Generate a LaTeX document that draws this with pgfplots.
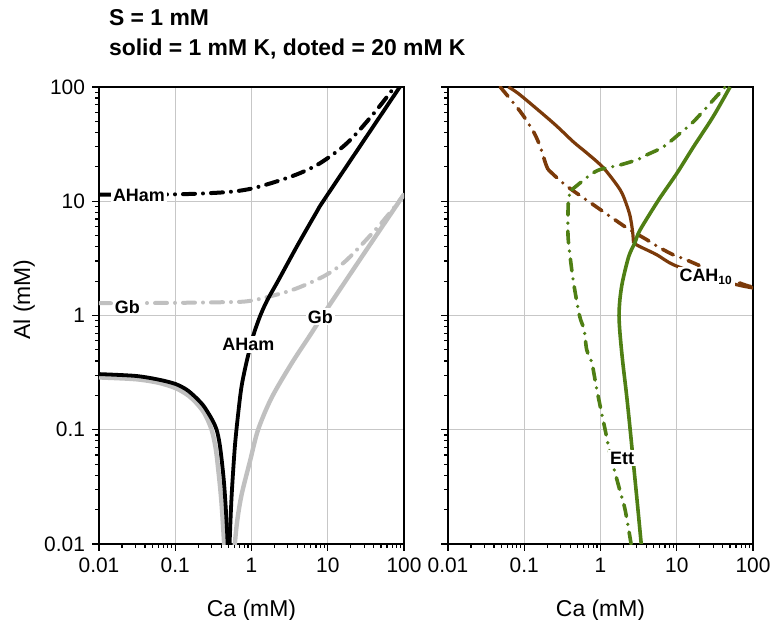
\documentclass[border=0pt]{standalone}
\usepackage{fontspec}
\setmainfont{Liberation Sans}
\usepackage{pgfplots}
\pgfplotsset{compat=1.18}

\definecolor{cahbrown}{RGB}{123,58,10}
\definecolor{ettgreen}{RGB}{79,127,20}
\definecolor{gbgray}{RGB}{192,192,192}

\tikzset{
  solidline/.style={line width=1.9bp, line join=round, smooth, tension=0.5},
  ddline/.style={line width=2bp, line cap=round, line join=round, smooth, tension=0.5,
    dash pattern=on 6bp off 4bp on 0bp off 4bp},
  curvelabel/.style={fill=white, inner sep=1bp,
    font=\fontsize{9}{10}\selectfont\bfseries},
}

\begin{document}
\begin{tikzpicture}
\useasboundingbox (0,0) rectangle (387.5bp,310bp);

\node[anchor=base west, font=\fontsize{11.5}{13}\selectfont\bfseries] at (51bp,297bp) {S = 1 mM};
\node[anchor=base west, font=\fontsize{11.5}{13}\selectfont\bfseries] at (51bp,282bp) {solid = 1 mM K, doted = 20 mM K};

% ---------------- left panel: AHam and Gb ----------------
\begin{axis}[
    xmode=log, ymode=log,
    scale only axis, width=152.5bp, height=228.5bp,
    at={(49.5bp,38bp)}, anchor=south west,
    xmin=0.01, xmax=100, ymin=0.01, ymax=100,
    xtick={0.01,0.1,1,10,100}, xticklabels={0.01,0.1,1,10,100},
    ytick={0.01,0.1,1,10,100}, yticklabels={0.01,0.1,1,10,100},
    minor xtick={0.02,0.03,0.04,0.05,0.06,0.07,0.08,0.09,0.2,0.3,0.4,0.5,0.6,0.7,0.8,0.9,2,3,4,5,6,7,8,9,20,30,40,50,60,70,80,90},
    minor ytick={0.02,0.03,0.04,0.05,0.06,0.07,0.08,0.09,0.2,0.3,0.4,0.5,0.6,0.7,0.8,0.9,2,3,4,5,6,7,8,9,20,30,40,50,60,70,80,90},
    tick align=outside, major tick length=3.5bp, minor tick length=2bp,
    xtick pos=bottom, ytick pos=left,
    grid=major, major grid style={line width=0.5bp, draw=black!22},
    axis line style={line width=0.75bp},
    tick style={black, line width=0.6bp},
    tick label style={font=\fontsize{10.5}{12}\selectfont},
    label style={font=\fontsize{11.5}{13}\selectfont},
    xlabel={Ca (mM)},
    xlabel style={at={(axis description cs:0.5,-0.158)}, anchor=base},
    ylabel={Al (mM)},
    ylabel style={at={(axis description cs:-0.245,0.535)}, anchor=center},
  ]

% Gb, 1 mM K
\addplot[gbgray, solidline, line width=2.2bp] coordinates {
 (0.01,0.287) (0.03,0.277) (0.06,0.258) (0.1,0.232) (0.14,0.205) (0.181,0.177)
 (0.24,0.14) (0.3,0.1) (0.34,0.068) (0.366,0.045) (0.39,0.03) (0.41,0.02)
 (0.438,0.01) (0.442,0.008)};
\addplot[gbgray, solidline, line width=2.2bp] coordinates {
 (0.60,0.008) (0.605,0.01) (0.65,0.016) (0.741,0.027) (0.955,0.053) (1.22,0.1)
 (1.83,0.19) (3.35,0.38) (6.1,0.70) (10,1.17) (30,3.5) (100,11.5)};
% Gb, 20 mM K
\addplot[gbgray, ddline] coordinates {
 (0.01,1.28) (0.1,1.29) (0.5,1.31) (0.86,1.33) (1.42,1.42) (3.5,1.68)
 (8.7,2.19) (15.9,2.87) (26.3,4.0) (48,6.2) (72,8.6) (100,11.4)};
% AHam, 1 mM K
\addplot[black, solidline] coordinates {
 (0.01,0.307) (0.03,0.296) (0.06,0.275) (0.1,0.252) (0.14,0.225) (0.181,0.195)
 (0.23,0.165) (0.271,0.14) (0.31,0.12) (0.349,0.1) (0.38,0.077) (0.406,0.055)
 (0.435,0.035) (0.457,0.022) (0.475,0.014) (0.486,0.01) (0.489,0.008)};
\addplot[black, solidline] coordinates {
 (0.514,0.008) (0.516,0.01) (0.548,0.026) (0.605,0.071) (0.67,0.14) (0.741,0.24)
 (0.86,0.39) (1.05,0.66) (1.29,0.98) (1.6,1.35) (2.24,2.02) (4.0,4.1) (7.1,8.0)
 (8.7,10) (26.3,30.1) (88,100) (100,113)};
% AHam, 20 mM K
\addplot[black, ddline] coordinates {
 (0.01,11.4) (0.1,11.5) (0.3,11.8) (0.6,12.2) (1.05,13.0) (2.13,14.9)
 (4.3,17.6) (7.9,21.5) (15.9,30.1) (26.3,42.2) (48,68) (75,100)};

\node[curvelabel] at (axis cs:0.0334,11.3) {AHam};
\node[curvelabel] at (axis cs:0.0236,1.19) {Gb};
\node[curvelabel] at (axis cs:0.91,0.555) {AHam};
\node[curvelabel] at (axis cs:8.0,0.975) {Gb};
\end{axis}

% ---------------- right panel: CAH10 and Ett ----------------
\begin{axis}[
    xmode=log, ymode=log,
    scale only axis, width=152.5bp, height=228.5bp,
    at={(224bp,38bp)}, anchor=south west,
    xmin=0.01, xmax=100, ymin=0.01, ymax=100,
    xtick={0.01,0.1,1,10,100}, xticklabels={0.01,0.1,1,10,100},
    ytick={0.01,0.1,1,10,100}, yticklabels={},
    minor xtick={0.02,0.03,0.04,0.05,0.06,0.07,0.08,0.09,0.2,0.3,0.4,0.5,0.6,0.7,0.8,0.9,2,3,4,5,6,7,8,9,20,30,40,50,60,70,80,90},
    minor ytick={0.02,0.03,0.04,0.05,0.06,0.07,0.08,0.09,0.2,0.3,0.4,0.5,0.6,0.7,0.8,0.9,2,3,4,5,6,7,8,9,20,30,40,50,60,70,80,90},
    tick align=outside, major tick length=3.5bp, minor tick length=2bp,
    xtick pos=bottom, ytick pos=left,
    grid=major, major grid style={line width=0.5bp, draw=black!22},
    axis line style={line width=0.75bp},
    tick style={black, line width=0.6bp},
    tick label style={font=\fontsize{10.5}{12}\selectfont},
    label style={font=\fontsize{11.5}{13}\selectfont},
    xlabel={Ca (mM)},
    xlabel style={at={(axis description cs:0.5,-0.158)}, anchor=base},
  ]

% CAH10, 1 mM K (two branches meeting at the corner)
\addplot[cahbrown, solidline, line width=1.6bp] coordinates {
 (0.062,100) (0.0887,85) (0.242,48.2) (0.443,33) (0.664,26.4) (1.1,19.5)
 (1.81,12.6) (2.2,9.3) (2.45,7.35) (2.63,5.5) (2.71,4.3)};
\addplot[cahbrown, solidline, line width=1.6bp] coordinates {
 (2.71,4.3) (3.31,4.0) (5.48,3.4) (9.06,2.78) (24,2.2) (61,1.86) (100,1.74)};
% CAH10, 20 mM K
\addplot[cahbrown, ddline, line width=1.8bp] coordinates {
 (0.0484,100) (0.0887,61) (0.132,40.7) (0.162,30) (0.19,21.5) (0.205,19)};
\addplot[cahbrown, ddline, line width=1.8bp] coordinates {
 (0.205,19) (0.344,13.9) (0.81,9.3) (1.81,6.4) (2.45,5.6) (4.06,4.6)
 (6.06,3.9) (10,3.28) (12.9,3.1) (67.6,1.92) (100,1.78)};
% Ett, 1 mM K
\addplot[ettgreen, solidline, line width=1.8bp] coordinates {
 (3.42,0.01) (3.1,0.02) (2.8,0.04) (2.45,0.1) (2.2,0.2) (1.95,0.4) (1.8,0.7)
 (1.75,1.0) (1.8,1.4) (1.95,2.0) (2.35,3.3) (2.85,4.4) (3.3,5.6) (5.8,10.3)
 (10,17.5) (16.6,30) (30,55) (50,100)};
% Ett, 20 mM K
\addplot[ettgreen, ddline, line width=1.8bp] coordinates {
 (2.52,0.01) (2.1,0.02) (1.78,0.03) (1.35,0.06) (1.15,0.1) (0.9,0.22)
 (0.77,0.385) (0.66,0.5) (0.61,0.75) (0.53,1.0) (0.44,2) (0.39,3.76) (0.374,5.3)
 (0.38,10.3) (0.42,12.6)};
\addplot[ettgreen, ddline, line width=1.8bp] coordinates {
 (0.42,12.6) (0.733,17) (1.0,19) (1.81,20.8) (3.15,23.3)
 (4.06,25.5) (6.7,30) (11.1,39.5) (16.6,49.8) (28.8,74.5) (43,100)};

\node[curvelabel] at (axis cs:1.92,0.0564) {Ett};
\node[curvelabel] at (axis cs:24.3,2.18) {CAH\textsubscript{10}};
\end{axis}
\end{tikzpicture}
\end{document}
